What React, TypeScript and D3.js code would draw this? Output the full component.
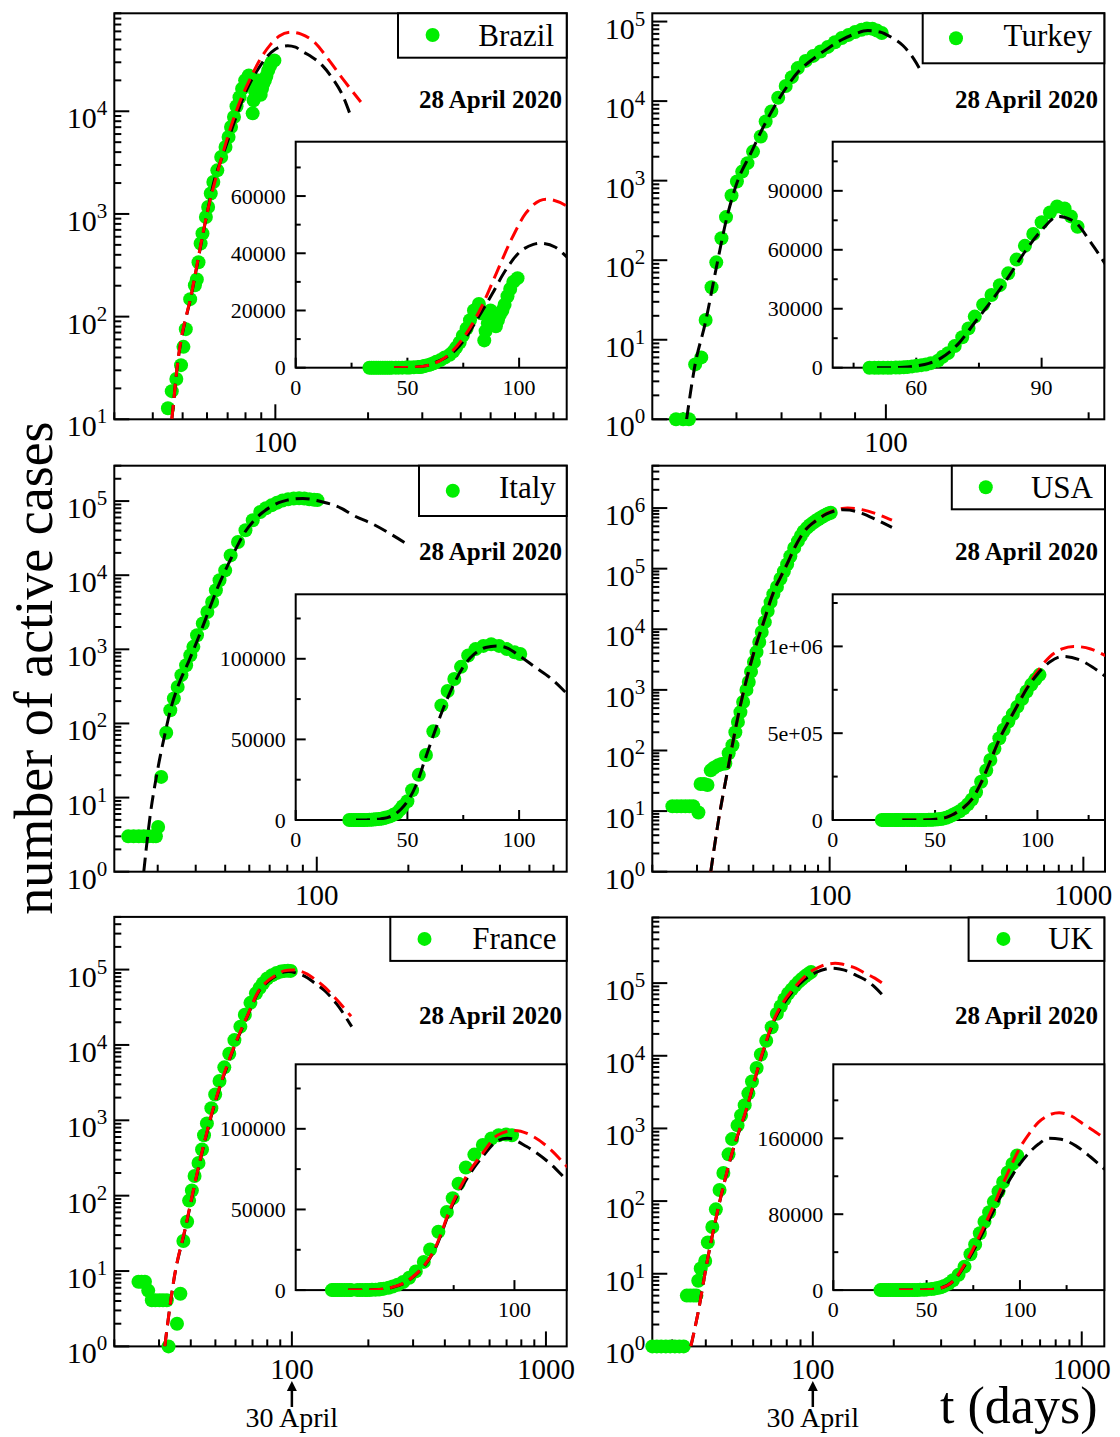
import * as d3 from "d3";

const FONT = "'Liberation Serif', 'Times New Roman', Times, serif";
const GREEN = "#00ee00";
const RED = "#ff0000";
const DASH = "14 7";

// ---- Brazil ----
const brazilDays = [33, 34, 35, 36, 37, 38, 39, 40, 41, 42, 43, 44.8, 46.1, 47.7, 49.4, 50.3, 51.2, 52.9, 54.8, 55.6, 56.3, 57.2, 58, 59.5, 60.5, 61.7, 62.9, 64.8, 66.7, 68.9, 70.5, 71.8, 73.4, 74.8, 76.5, 78, 79.8, 82, 83, 84.4, 85, 86, 87.2, 88.5, 89.6, 90.5, 91.4, 92.5, 93.5, 94.8, 96, 97.4, 99.3];
const brazilCases = [1, 1, 1, 2, 2, 2, 4, 4, 6, 6, 8, 12.8, 18.8, 24.7, 33.7, 50.8, 75.5, 148, 202, 230, 339, 515, 646, 935, 1170, 1580, 2050, 2660, 3590, 4490, 5620, 7020, 8790, 11200, 13700, 16600, 20000, 22300, 19000, 9550, 12800, 15500, 20000, 17500, 14500, 16600, 18500, 20000, 22000, 25000, 27500, 30000, 31300];
const brazilBlackDays = [44, 46.1, 48, 53.7, 60, 63.3, 67, 71.6, 74.8, 78.2, 83.2, 88.1, 93.1, 99.7, 106.4, 109.7, 116.3, 121.3, 130, 142, 154, 165, 174.3];
const brazilBlack = [4, 10, 32, 178, 1000, 2100, 3500, 6200, 9000, 13000, 19500, 26000, 33000, 40000, 43100, 43500, 42100, 38800, 34500, 28000, 20500, 14500, 9600];
const brazilRedDays = [44, 46.1, 48, 53.7, 60, 67, 74.8, 83.2, 89.8, 96.4, 103, 112.2, 121.3, 134, 149.5, 167, 189.5];
const brazilRed = [4, 10, 32.5, 181, 1010, 3590, 10200, 21300, 33000, 44600, 54000, 58900, 56500, 47100, 31300, 20000, 12300];

// ---- Turkey ----
const turkeyDays = [48.8, 50, 51, 52.1, 53.2, 54, 55.1, 56, 57, 57.9, 59, 60.1, 61.2, 62.3, 63.5, 65.2, 66.3, 67.6, 69.2, 71, 72.5, 74, 76, 78, 80, 82, 84, 86, 88, 90, 92, 93.7, 95.5, 97, 98.6];
const turkeyCases = [1, 1, 1, 4.9, 6, 17.7, 45.7, 94, 189, 348, 650, 975, 1300, 1660, 2320, 3590, 5540, 7400, 11000, 15500, 20000, 26000, 32000, 37000, 42000, 48000, 55000, 62000, 68000, 74000, 79000, 82000, 81000, 77000, 71700];
const turkeyBlackDays = [50.6, 52, 54, 56, 58, 60, 63, 66, 70, 74, 78, 82, 86, 90, 94, 98, 102, 106, 110, 113];
const turkeyBlack = [1, 4.5, 17, 80, 330, 900, 2200, 5000, 12000, 23000, 34000, 46000, 59000, 70000, 77000, 74000, 63000, 50000, 34000, 23000];

// ---- Italy ----
const italyDays = [24, 25, 26, 27, 28, 29, 29.6, 30.1, 30.8, 32, 33, 33.9, 34.9, 35.9, 37.2, 38.4, 39.3, 40.4, 42.2, 43.7, 45.3, 46.6, 47.9, 50, 52.1, 55.1, 58.3, 61.6, 65.2, 68, 71, 74, 77.2, 80.5, 84, 87.5, 91, 94.5, 98, 100.5];
const italyCases = [3, 3, 3, 3, 3, 3, 3, 4, 19, 75, 151, 217, 311, 448, 611, 832, 1080, 1550, 2230, 3190, 4350, 6260, 8540, 11600, 18500, 28000, 40300, 55000, 71100, 80000, 87500, 95000, 102000, 106000, 108000, 109000, 108000, 106000, 104000, 103000];
const italyBlackDays = [27, 28.3, 30, 31.8, 33, 35, 38, 41, 44, 47, 50, 54, 58, 62, 66, 70, 75, 80, 85, 90, 95, 100, 107, 114.5, 121, 132, 152, 174, 201];
const italyBlack = [1, 5.5, 24, 77, 150, 320, 700, 1500, 3200, 6500, 11500, 22000, 38000, 54000, 69000, 82000, 95000, 103000, 107000, 108000, 106500, 102000, 95000, 87500, 79000, 64000, 49500, 36400, 25300];

// ---- USA ----
const usaDays = [24, 25, 26, 27, 28, 29, 30.4, 31, 32, 33, 34, 35, 36.4, 37.5, 38.8, 40, 41.4, 42.5, 43.5, 44.5, 45.6, 47, 48, 49, 50.3, 51.5, 52.8, 54, 55.5, 57, 58.5, 60, 62, 64, 66, 68, 70, 72.5, 75, 77, 79, 81.4, 83.5, 85.8, 88, 90.2, 92.5, 94.7, 97, 99, 101];
const usaCases = [12, 12, 12, 12, 12, 12, 9.5, 28, 28, 27, 47, 52, 57, 60, 61, 90, 122, 200, 296, 430, 630, 1000, 1350, 2000, 2880, 4200, 6150, 9000, 13100, 20000, 28100, 38000, 50000, 68000, 90000, 118000, 160000, 220000, 285000, 346000, 410000, 471000, 520000, 567000, 610000, 653000, 697000, 740000, 780000, 810000, 836000];
const usaBlackDays = [34, 36.4, 39.5, 44.2, 50.3, 55.5, 58.5, 61, 64, 68, 72.5, 77, 81.4, 85.8, 90.2, 95, 100, 106, 112.4, 120, 127, 134, 152, 176];
const usaBlack = [1, 6.7, 44, 492, 4200, 15000, 30000, 48000, 72000, 120000, 215000, 340000, 465000, 565000, 660000, 760000, 840000, 910000, 942000, 925000, 880000, 820000, 650000, 480000];
const usaRedDays = [34, 36.4, 39.5, 44.2, 50.3, 55.5, 58.5, 61, 64, 68, 72.5, 77, 81.4, 85.8, 90.2, 95, 100, 106, 112, 117.7, 126, 134, 152, 176];
const usaRed = [1, 6.7, 44, 492, 4200, 15000, 30000, 48000, 72000, 120000, 215000, 340000, 465000, 565000, 660000, 765000, 855000, 940000, 985000, 1000000, 985000, 942000, 810000, 630000];

// ---- France ----
const franceDays = [24.9, 25.6, 26.4, 27.2, 28.1, 29, 30.1, 31.1, 32.2, 32.7, 35.3, 36.4, 37.4, 38.7, 39.4, 40.4, 41.4, 42.9, 44.3, 45.1, 46.3, 48.2, 49.9, 51.9, 54.2, 56.7, 59.4, 62.7, 65.3, 68.7, 72.2, 74.6, 77, 80, 83.5, 87, 90.5, 93.5, 96.5, 99];
const franceCases = [7.2, 7.2, 7.2, 5.5, 4.1, 4.1, 4.1, 4.1, 4.1, 1, 2, 5, 25, 45, 86, 117, 182, 271, 409, 634, 910, 1450, 2200, 3330, 5040, 7630, 11600, 17500, 25200, 36200, 48400, 57000, 66000, 76000, 84000, 90000, 94000, 96000, 96500, 96000];
const franceBlackDays = [31.6, 34.4, 38.1, 42.1, 48.2, 57.1, 67.5, 74, 80, 87, 93, 97, 105, 115, 122, 135, 150, 172];
const franceBlack = [1, 8, 37, 178, 1150, 6700, 26000, 51000, 68000, 83000, 92500, 94200, 89000, 78000, 67500, 52000, 35000, 17500];
const franceRedDays = [31.6, 34.4, 38.1, 42.1, 48.2, 57.1, 67.5, 74, 80, 87, 93, 100, 108, 115, 122, 135, 150, 171];
const franceRed = [1, 8.1, 38, 182, 1180, 6890, 26500, 52000, 70000, 85000, 96000, 99000, 95000, 87000, 76000, 58000, 40000, 24000];

// ---- UK ----
const ukDays = [25.3, 26.3, 27.3, 28.4, 29.5, 30.7, 31.9, 33.1, 34, 35, 36, 36.9, 37.5, 38.3, 39.8, 40.7, 42.3, 43.6, 45, 46.5, 48.6, 50.1, 52.5, 54.1, 55.8, 57.6, 59.4, 61.8, 64.1, 67.1, 70.3, 73.5, 76, 78.5, 81, 83.5, 86, 88.5, 91, 93.5, 96, 98.5];
const ukCases = [1, 1, 1, 1, 1, 1, 1, 1, 5, 5, 5, 5, 8, 11.8, 15, 27, 44, 77, 142, 244, 440, 713, 1100, 1510, 2090, 3040, 4430, 6800, 10400, 16100, 24700, 37800, 48000, 60000, 72000, 82000, 93000, 104000, 114000, 124000, 133000, 142000];
const ukBlackDays = [35.2, 37.5, 40.5, 44.3, 50.1, 56.7, 64.1, 72.4, 80, 85, 90, 95, 100, 105, 110, 115.6, 122, 130, 138, 145, 156, 170, 182];
const ukBlack = [1, 3, 15, 74, 455, 1830, 9100, 32500, 60000, 80000, 100000, 118000, 133000, 145000, 154000, 160000, 159000, 152000, 140000, 128000, 112000, 88000, 68000];
const ukRedDays = [35.2, 37.5, 40.5, 44.3, 50.1, 56.7, 64.1, 72.4, 80, 85, 90, 95, 100, 105, 110, 115, 121, 128, 134, 145, 156, 170, 182];
const ukRed = [1, 3, 15, 75, 465, 1870, 9380, 34000, 64000, 85000, 108000, 130000, 150000, 165000, 177000, 184000, 187000, 183000, 175000, 160000, 138000, 117000, 99000];

type Box = { x0: number; x1: number; y0: number; y1: number };
type Curve = { days: number[]; values: number[]; color: string };
type Spec = {
  id: string;
  name: string;
  frame: Box;
  xDomain: [number, number];
  yDomain: [number, number];
  xLabels: number[];
  inset: Box;
  insetX: [number, number];
  insetY: [number, number];
  insetXMajor: number[];
  insetXMinor: number[];
  insetYMajor: number[];
  insetYMinor: number[];
  insetYText: string[];
  days: number[];
  cases: number[];
  curves: Curve[];
  legend: Box;
  dot: [number, number];
  textPos: [number, number];
  datePos: [number, number];
};

const panels: Spec[] = [
  {
    id: "br", name: "Brazil",
    frame: { x0: 114.3, x1: 566.7, y0: 13.3, y1: 419.3 }, xDomain: [30, 883], yDomain: [10, 90000], xLabels: [100],
    inset: { x0: 295.7, x1: 566.7, y0: 141.7, y1: 367.7 }, insetX: [0, 121.3], insetY: [0, 79000],
    insetXMajor: [0, 50, 100], insetXMinor: [25, 75], insetYMajor: [0, 20000, 40000, 60000], insetYMinor: [10000, 30000, 50000, 70000],
    insetYText: ["0", "20000", "40000", "60000"],
    days: brazilDays, cases: brazilCases,
    curves: [{ days: brazilBlackDays, values: brazilBlack, color: "#000" }, { days: brazilRedDays, values: brazilRed, color: RED }],
    legend: { x0: 398, x1: 566.7, y0: 13.3, y1: 57.7 }, dot: [432.6, 35], textPos: [554, 46], datePos: [562, 108.3],
  },
  {
    id: "tr", name: "Turkey",
    frame: { x0: 652.3, x1: 1104.3, y0: 13.3, y1: 419.3 }, xDomain: [45, 211], yDomain: [1, 127000], xLabels: [100],
    inset: { x0: 832.7, x1: 1104.3, y0: 141.7, y1: 367.7 }, insetX: [40, 105], insetY: [0, 115000],
    insetXMajor: [60, 90], insetXMinor: [45, 75], insetYMajor: [0, 30000, 60000, 90000], insetYMinor: [15000, 45000, 75000, 105000],
    insetYText: ["0", "30000", "60000", "90000"],
    days: turkeyDays, cases: turkeyCases,
    curves: [{ days: turkeyBlackDays, values: turkeyBlack, color: "#000" }],
    legend: { x0: 922.7, x1: 1104.3, y0: 13.3, y1: 63.3 }, dot: [956, 38.3], textPos: [1092, 46], datePos: [1098, 108.3],
  },
  {
    id: "it", name: "Italy",
    frame: { x0: 114.3, x1: 566.7, y0: 465.7, y1: 871.7 }, xDomain: [21.6, 663], yDomain: [1, 300000], xLabels: [100],
    inset: { x0: 295.7, x1: 566.7, y0: 594.3, y1: 820 }, insetX: [0, 121.3], insetY: [0, 140000],
    insetXMajor: [0, 50, 100], insetXMinor: [25, 75], insetYMajor: [0, 50000, 100000], insetYMinor: [25000, 75000, 125000],
    insetYText: ["0", "50000", "100000"],
    days: italyDays, cases: italyCases,
    curves: [{ days: italyBlackDays, values: italyBlack, color: "#000" }],
    legend: { x0: 419, x1: 566.7, y0: 465.7, y1: 516 }, dot: [452.8, 490.7], textPos: [555.8, 497.7], datePos: [562, 560],
  },
  {
    id: "us", name: "USA",
    frame: { x0: 652.3, x1: 1105, y0: 465.7, y1: 871.7 }, xDomain: [20, 1217], yDomain: [1, 5e6], xLabels: [100, 1000],
    inset: { x0: 832.7, x1: 1105, y0: 594.3, y1: 820 }, insetX: [0, 133], insetY: [0, 1.3e6],
    insetXMajor: [0, 50, 100], insetXMinor: [25, 75, 125], insetYMajor: [0, 5e5, 1e6], insetYMinor: [2.5e5, 7.5e5, 1.25e6],
    insetYText: ["0", "5e+05", "1e+06"],
    days: usaDays, cases: usaCases,
    curves: [{ days: usaRedDays, values: usaRed, color: RED }, { days: usaBlackDays, values: usaBlack, color: "#000" }],
    legend: { x0: 951.8, x1: 1105, y0: 465.7, y1: 509.3 }, dot: [985.8, 487.3], textPos: [1093, 497.7], datePos: [1098, 560],
  },
  {
    id: "fr", name: "France",
    frame: { x0: 114.3, x1: 566.7, y0: 916.9, y1: 1346.4 }, xDomain: [20, 1207], yDomain: [1, 500000], xLabels: [100, 1000],
    inset: { x0: 295.7, x1: 566.7, y0: 1064.3, y1: 1290.1 }, insetX: [10, 121.5], insetY: [0, 140000],
    insetXMajor: [50, 100], insetXMinor: [25, 75], insetYMajor: [0, 50000, 100000], insetYMinor: [25000, 75000, 125000],
    insetYText: ["0", "50000", "100000"],
    days: franceDays, cases: franceCases,
    curves: [{ days: franceBlackDays, values: franceBlack, color: "#000" }, { days: franceRedDays, values: franceRed, color: RED }],
    legend: { x0: 390.3, x1: 566.7, y0: 916.9, y1: 960.9 }, dot: [424.5, 938.9], textPos: [556.5, 949], datePos: [562, 1024.3],
  },
  {
    id: "uk", name: "UK",
    frame: { x0: 652.3, x1: 1104.3, y0: 917.5, y1: 1346.4 }, xDomain: [25.3, 1213], yDomain: [1, 800000], xLabels: [100, 1000],
    inset: { x0: 833.3, x1: 1104.3, y0: 1064.3, y1: 1290.1 }, insetX: [0, 145.2], insetY: [0, 238000],
    insetXMajor: [0, 50, 100], insetXMinor: [25, 75, 125], insetYMajor: [0, 80000, 160000], insetYMinor: [40000, 120000, 200000],
    insetYText: ["0", "80000", "160000"],
    days: ukDays, cases: ukCases,
    curves: [{ days: ukBlackDays, values: ukBlack, color: "#000" }, { days: ukRedDays, values: ukRed, color: RED }],
    legend: { x0: 968.6, x1: 1104.3, y0: 917.5, y1: 960.9 }, dot: [1003.4, 938.9], textPos: [1093, 949], datePos: [1098, 1024.3],
  },
];

// log-axis tick positions: 1..9 x 10^k inside the domain
function logTicks(domain: [number, number]) {
  const out: { v: number; k: number; major: boolean }[] = [];
  const k0 = Math.floor(Math.log10(domain[0]));
  const k1 = Math.ceil(Math.log10(domain[1]));
  for (let k = k0; k <= k1; k++) {
    for (let m = 1; m <= 9; m++) {
      const v = m * Math.pow(10, k);
      if (v >= domain[0] * 0.999 && v <= domain[1] * 1.001) out.push({ v, k, major: m === 1 });
    }
  }
  return out;
}

function Panel({ s }: { s: Spec }) {
  const f = s.frame;
  const b = s.inset;
  const x = d3.scaleLog().domain(s.xDomain).range([f.x0, f.x1]);
  const y = d3.scaleLog().domain(s.yDomain).range([f.y1, f.y0]);
  const ix = d3.scaleLinear().domain(s.insetX).range([b.x0, b.x1]);
  const iy = d3.scaleLinear().domain(s.insetY).range([b.y1, b.y0]);

  const pts = d3.zip(s.days, s.cases) as [number, number][];
  const mainPts = pts.filter(([t, v]) => v >= s.yDomain[0] * 0.999 && v <= s.yDomain[1] && t >= s.xDomain[0] && t <= s.xDomain[1]);
  const insetPts = pts.filter(([t, v]) => t >= s.insetX[0] && t <= s.insetX[1] && v <= s.insetY[1]);

  const mainLine = d3.line<[number, number]>().x((d) => x(d[0])).y((d) => y(d[1])).curve(d3.curveMonotoneX);
  const insetLine = d3.line<[number, number]>().x((d) => ix(d[0])).y((d) => iy(d[1])).curve(d3.curveMonotoneX);

  const xt = logTicks(s.xDomain);
  const yt = logTicks(s.yDomain);

  return (
    <g>
      <defs>
        <clipPath id={`main-${s.id}`}>
          <rect x={f.x0} y={f.y0} width={f.x1 - f.x0} height={f.y1 - f.y0} />
        </clipPath>
        <clipPath id={`inset-${s.id}`}>
          <rect x={b.x0} y={b.y0} width={b.x1 - b.x0} height={b.y1 - b.y0} />
        </clipPath>
      </defs>

      {/* main frame and ticks */}
      <rect x={f.x0} y={f.y0} width={f.x1 - f.x0} height={f.y1 - f.y0} fill="none" stroke="#000" strokeWidth={2} />
      {xt.map((t, i) => (
        <line key={`xt${i}`} x1={x(t.v)} x2={x(t.v)} y1={f.y1} y2={f.y1 - (t.major ? 15 : 7)} stroke="#000" strokeWidth={2} />
      ))}
      {yt.map((t, i) => (
        <line key={`yt${i}`} x1={f.x0} x2={f.x0 + (t.major ? 15 : 7)} y1={y(t.v)} y2={y(t.v)} stroke="#000" strokeWidth={2} />
      ))}
      {yt.filter((t) => t.major).map((t, i) => (
        <text key={`yl${i}`} x={f.x0 - 7} y={y(t.v) + 17} textAnchor="end" fontSize={30}>
          10<tspan dy={-13} fontSize={21}>{t.k}</tspan>
        </text>
      ))}
      {s.xLabels.map((v) => (
        <text key={`xl${v}`} x={x(v)} y={f.y1 + 33} textAnchor="middle" fontSize={29}>{v}</text>
      ))}

      {/* main data and fits */}
      {mainPts.map(([t, v], i) => (
        <circle key={`md${i}`} cx={x(t)} cy={y(v)} r={7} fill={GREEN} />
      ))}
      <g clipPath={`url(#main-${s.id})`}>
        {s.curves.map((c, i) => (
          <path key={`mc${i}`} d={mainLine(d3.zip(c.days, c.values) as [number, number][]) || ""} fill="none" stroke={c.color} strokeWidth={3} strokeDasharray={DASH} />
        ))}
      </g>

      {/* legend and date */}
      <rect x={s.legend.x0} y={s.legend.y0} width={s.legend.x1 - s.legend.x0} height={s.legend.y1 - s.legend.y0} fill="#fff" stroke="#000" strokeWidth={2} />
      <circle cx={s.dot[0]} cy={s.dot[1]} r={7} fill={GREEN} />
      <text x={s.textPos[0]} y={s.textPos[1]} textAnchor="end" fontSize={31}>{s.name}</text>
      <text x={s.datePos[0]} y={s.datePos[1]} textAnchor="end" fontSize={25} fontWeight="bold">28 April 2020</text>

      {/* inset */}
      <rect x={b.x0} y={b.y0} width={b.x1 - b.x0} height={b.y1 - b.y0} fill="#fff" stroke="#000" strokeWidth={2} />
      {s.insetXMajor.concat(s.insetXMinor).map((v, i) => (
        <line key={`ixt${i}`} x1={ix(v)} x2={ix(v)} y1={b.y1} y2={b.y1 - (i < s.insetXMajor.length ? 10 : 5)} stroke="#000" strokeWidth={2} />
      ))}
      {s.insetYMajor.concat(s.insetYMinor).map((v, i) => (
        <line key={`iyt${i}`} x1={b.x0} x2={b.x0 + (i < s.insetYMajor.length ? 10 : 5)} y1={iy(v)} y2={iy(v)} stroke="#000" strokeWidth={2} />
      ))}
      {s.insetXMajor.map((v) => (
        <text key={`ixl${v}`} x={ix(v)} y={b.y1 + 27} textAnchor="middle" fontSize={22}>{v}</text>
      ))}
      {s.insetYMajor.map((v, i) => (
        <text key={`iyl${v}`} x={b.x0 - 10} y={iy(v) + 7.5} textAnchor="end" fontSize={22}>{s.insetYText[i]}</text>
      ))}
      {insetPts.map(([t, v], i) => (
        <circle key={`id${i}`} cx={ix(t)} cy={iy(v)} r={7} fill={GREEN} />
      ))}
      <g clipPath={`url(#inset-${s.id})`}>
        {s.curves.map((c, i) => (
          <path key={`ic${i}`} d={insetLine(d3.zip(c.days, c.values) as [number, number][]) || ""} fill="none" stroke={c.color} strokeWidth={3} strokeDasharray={DASH} />
        ))}
      </g>
    </g>
  );
}

function Marker({ s }: { s: Spec }) {
  const x = d3.scaleLog().domain(s.xDomain).range([s.frame.x0, s.frame.x1])(100);
  return (
    <g>
      <line x1={x} x2={x} y1={1389} y2={1407} stroke="#000" strokeWidth={2.5} />
      <path d={`M${x - 5},${1391} L${x},${1381} L${x + 5},${1391} Z`} fill="#000" />
      <text x={x} y={1427} textAnchor="middle" fontSize={28}>30 April</text>
    </g>
  );
}

export default function App() {
  return (
    <svg
      width={1120}
      height={1437}
      viewBox="0 0 1120 1437"
      style={{ position: "absolute", left: 0, top: 0, background: "#fff", display: "block" }}
      fontFamily={FONT}
    >
      <rect x={0} y={0} width={1120} height={1437} fill="#fff" />
      {panels.map((p) => (
        <Panel key={p.id} s={p} />
      ))}
      <Marker s={panels[4]} />
      <Marker s={panels[5]} />
      <text transform="translate(52,668) rotate(-90)" textAnchor="middle" fontSize={54}>number of active cases</text>
      <text x={1097.5} y={1423} textAnchor="end" fontSize={52}>t (days)</text>
    </svg>
  );
}
